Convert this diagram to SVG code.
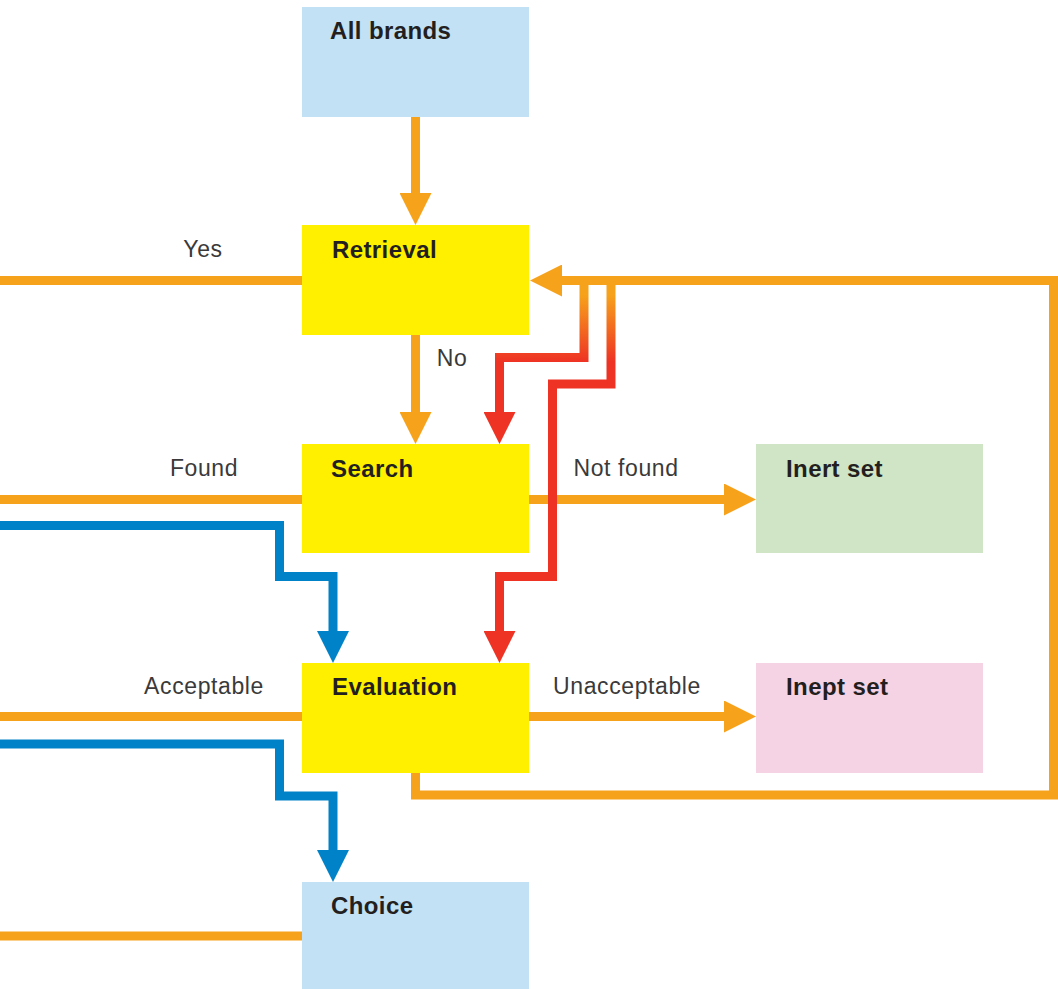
<svg xmlns="http://www.w3.org/2000/svg" width="1058" height="989" viewBox="0 0 1058 989">
  <style>
    .title { font-family: "Liberation Sans", Arial, sans-serif; font-weight: bold; font-size: 24px; fill: #231F20; letter-spacing: 0.4px; }
    .label { font-family: "Liberation Sans", Arial, sans-serif; font-size: 23px; fill: #3A3A3A; text-anchor: middle; letter-spacing: 0.6px; }
    .flow { fill: none; stroke-width: 9; stroke-linejoin: miter; stroke-linecap: butt; }
    .orange { stroke: #F7A21B; }
    .blue { stroke: #0082C8; }
    .red { stroke: url(#fade); }
    .yellow { fill: #FFF000; }
    .sky { fill: #C2E1F5; }
    .green { fill: #CFE5C5; }
    .pink { fill: #F6D3E4; }
  </style>
  <defs>
    <linearGradient id="fade" gradientUnits="userSpaceOnUse" x1="0" y1="295" x2="0" y2="362">
      <stop offset="0" stop-color="#F7A21B"/>
      <stop offset="1" stop-color="#EE3224"/>
    </linearGradient>
    <marker id="headOrange" viewBox="0 0 32 32" refX="0" refY="16" markerWidth="32" markerHeight="32" markerUnits="userSpaceOnUse" orient="auto">
      <path d="M0 0 L32 16 L0 32 Z" fill="#F7A21B"/>
    </marker>
    <marker id="headBlue" viewBox="0 0 32 32" refX="0" refY="16" markerWidth="32" markerHeight="32" markerUnits="userSpaceOnUse" orient="auto">
      <path d="M0 0 L32 16 L0 32 Z" fill="#0082C8"/>
    </marker>
    <marker id="headRed" viewBox="0 0 32 32" refX="0" refY="16" markerWidth="32" markerHeight="32" markerUnits="userSpaceOnUse" orient="auto">
      <path d="M0 0 L32 16 L0 32 Z" fill="#EE3224"/>
    </marker>
  </defs>

  <rect width="1058" height="989" fill="#FFFFFF"/>

  <!-- nodes -->
  <g id="all-brands">
    <rect class="sky" x="302" y="7" width="227" height="110"/>
    <text class="title" x="330" y="39">All brands</text>
  </g>
  <g id="retrieval">
    <rect class="yellow" x="302" y="225" width="227" height="110"/>
    <text class="title" x="332" y="258">Retrieval</text>
  </g>
  <g id="search">
    <rect class="yellow" x="302" y="444" width="227" height="109"/>
    <text class="title" x="331" y="477">Search</text>
  </g>
  <g id="inert-set">
    <rect class="green" x="756" y="444" width="227" height="109"/>
    <text class="title" x="786" y="477">Inert set</text>
  </g>
  <g id="evaluation">
    <rect class="yellow" x="302" y="663" width="227" height="110"/>
    <text class="title" x="332" y="695">Evaluation</text>
  </g>
  <g id="inept-set">
    <rect class="pink" x="756" y="663" width="227" height="110"/>
    <text class="title" x="786" y="695">Inept set</text>
  </g>
  <g id="choice">
    <rect class="sky" x="302" y="882" width="227" height="107"/>
    <text class="title" x="331" y="914">Choice</text>
  </g>

  <!-- connectors -->
  <g id="connectors">
    <path class="flow orange" d="M415.5 117 V193" marker-end="url(#headOrange)"/>
    <path class="flow orange" d="M415.5 335 V412" marker-end="url(#headOrange)"/>
    <path class="flow orange" d="M0 280.5 H302"/>
    <path class="flow orange" d="M0 499.5 H302"/>
    <path class="flow orange" d="M0 716.5 H302"/>
    <path class="flow orange" d="M0 936 H302"/>
    <path class="flow orange" d="M529 499.5 H724" marker-end="url(#headOrange)"/>
    <path class="flow orange" d="M529 716.5 H724" marker-end="url(#headOrange)"/>
    <path class="flow orange" d="M415.5 773 V795 H1053.5 V280.5 H562" marker-end="url(#headOrange)"/>
    <path class="flow blue" d="M0 525.5 H279.5 V576.5 H333 V631" marker-end="url(#headBlue)"/>
    <path class="flow blue" d="M0 744 H279.5 V796 H333 V850" marker-end="url(#headBlue)"/>
    <path class="flow red" d="M584 284 V357.5 H499.5 V412" marker-end="url(#headRed)"/>
    <path class="flow red" d="M611 284 V384 H552.5 V576.5 H499.5 V631" marker-end="url(#headRed)"/>
  </g>

  <!-- connector labels -->
  <g id="labels">
    <text class="label" x="203" y="257">Yes</text>
    <text class="label" x="452" y="366">No</text>
    <text class="label" x="204" y="476">Found</text>
    <text class="label" x="626" y="476">Not found</text>
    <text class="label" x="204" y="694">Acceptable</text>
    <text class="label" x="627" y="694">Unacceptable</text>
  </g>
</svg>
